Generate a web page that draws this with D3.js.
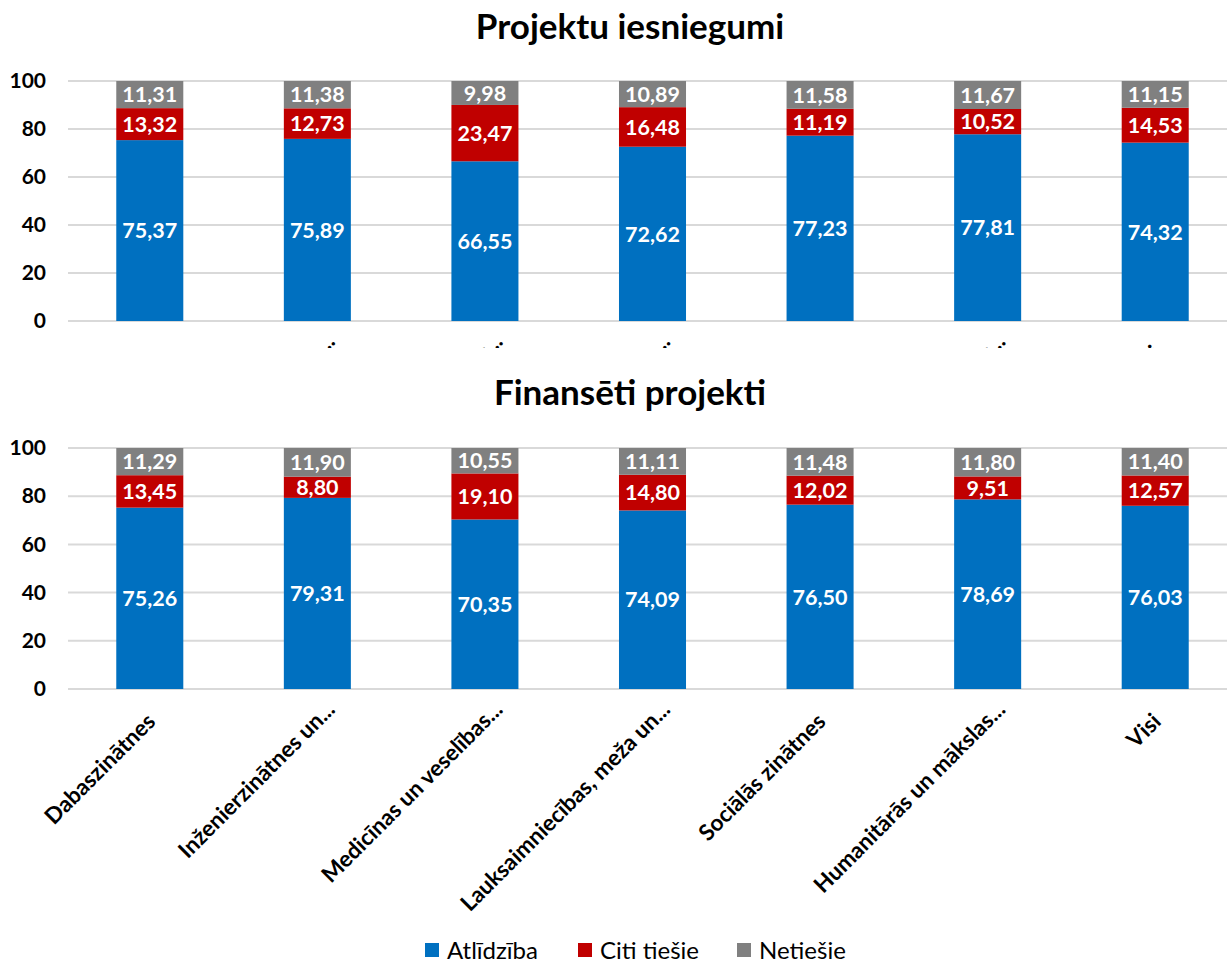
<!DOCTYPE html>
<html>
<head>
<meta charset="utf-8">
<script src="https://cdn.jsdelivr.net/npm/d3@7"></script>
<style>
  html, body { margin: 0; padding: 0; background: #fff; }
  svg { display: block; font-family: Lato, "Open Sans", sans-serif; }
</style>
</head>
<body>
<svg id="chart" width="1227" height="963"></svg>
<script>
// Categories (axis labels as shown, truncated)
const categories = [
  "Dabaszinātnes",
  "Inženierzinātnes un...",
  "Medicīnas un veselības...",
  "Lauksaimniecības,  meža un...",
  "Sociālās zinātnes",
  "Humanitārās un mākslas...",
  "Visi"
];
const seriesNames = ["Atlīdzība", "Citi tiešie", "Netiešie"];
const seriesColors = ["#0070C0", "#C00000", "#808080"];
const yTicks = [0, 20, 40, 60, 80, 100];

// Projektu iesniegumi
const subAtlidziba = [75.37, 75.89, 66.55, 72.62, 77.23, 77.81, 74.32];
const subCiti      = [13.32, 12.73, 23.47, 16.48, 11.19, 10.52, 14.53];
const subNetiesie  = [11.31, 11.38, 9.98, 10.89, 11.58, 11.67, 11.15];

// Finansēti projekti
const finAtlidziba = [75.26, 79.31, 70.35, 74.09, 76.50, 78.69, 76.03];
const finCiti      = [13.45, 8.80, 19.10, 14.80, 12.02, 9.51, 12.57];
const finNetiesie  = [11.29, 11.90, 10.55, 11.11, 11.48, 11.80, 11.40];

const svg = d3.select("#chart");
const fmt = v => d3.format(".2f")(v).replace(".", ",");

function panel(cfg) {
  const { title, titleY, y0, y100, series, clipBottom } = cfg;
  const g = svg.append("g");

  g.append("text")
    .attr("x", 630).attr("y", titleY)
    .attr("text-anchor", "middle")
    .attr("font-size", 35).attr("font-weight", 700)
    .attr("fill", "#000")
    .text(title);

  const x = d3.scaleBand().domain(categories).range([66, 1239]).paddingInner(0.6).paddingOuter(0.3);
  const y = d3.scaleLinear().domain([0, 100]).range([y0, y100]);

  // gridlines
  g.append("g").selectAll("line").data(yTicks).join("line")
    .attr("x1", 68).attr("x2", 1227)
    .attr("y1", d => y(d)).attr("y2", d => y(d))
    .attr("stroke", "#d9d9d9").attr("stroke-width", 2);

  // y tick labels
  const yAxis = d3.axisLeft(y).tickValues(yTicks).tickSize(0).tickPadding(0);
  const ya = g.append("g").attr("transform", "translate(46,0)").call(yAxis);
  ya.select(".domain").remove();
  ya.selectAll("text")
    .attr("font-size", 21).attr("font-weight", 700).attr("fill", "#000")
    .attr("font-family", "Lato, 'Open Sans', sans-serif");

  // stacked bars
  const rows = categories.map((c, i) => ({ cat: c, s0: series[0][i], s1: series[1][i], s2: series[2][i] }));
  const stack = d3.stack().keys(["s0", "s1", "s2"])(rows);
  stack.forEach((layer, k) => {
    const lg = g.append("g");
    lg.selectAll("rect").data(layer).join("rect")
      .attr("x", d => x(d.data.cat))
      .attr("width", x.bandwidth())
      .attr("y", d => y(d[1]))
      .attr("height", d => y(d[0]) - y(d[1]))
      .attr("fill", seriesColors[k]);
    lg.selectAll("text").data(layer).join("text")
      .attr("x", d => x(d.data.cat) + x.bandwidth() / 2)
      .attr("y", d => (y(d[0]) + y(d[1])) / 2)
      .attr("dy", "0.36em")
      .attr("text-anchor", "middle")
      .attr("font-size", 21.5).attr("font-weight", 700)
      .attr("fill", "#fff")
      .text(d => fmt(d.data["s" + k]));
  });

  // category labels (rotated); the upper panel's are cut off by its plot area
  const lab = g.append("g");
  if (clipBottom) {
    const id = "clip" + Math.round(y0);
    svg.append("clipPath").attr("id", id)
      .append("rect").attr("x", 0).attr("y", 0).attr("width", 1227).attr("height", clipBottom);
    lab.attr("clip-path", `url(#${id})`);
  }
  lab.selectAll("text").data(categories).join("text")
    .attr("transform", d => `translate(${x(d) + x.bandwidth() / 2 + 7},${y0 + 34}) rotate(-45)`)
    .attr("dx", d => d.endsWith("...") ? 17 : 0)
    .attr("text-anchor", "end")
    .attr("font-size", 22.5).attr("font-weight", 700)
    .attr("fill", "#000")
    .text(d => d);
}

panel({
  title: "Projektu iesniegumi", titleY: 39, y0: 321, y100: 81,
  series: [subAtlidziba, subCiti, subNetiesie], clipBottom: 348
});
panel({
  title: "Finansēti projekti", titleY: 405, y0: 689, y100: 448,
  series: [finAtlidziba, finCiti, finNetiesie]
});

// legend
const legend = svg.append("g");
const legendX = [425, 578, 737];
seriesNames.forEach((n, i) => {
  legend.append("rect")
    .attr("x", legendX[i]).attr("y", 943)
    .attr("width", 14).attr("height", 14)
    .attr("fill", seriesColors[i]);
  legend.append("text")
    .attr("x", legendX[i] + 22).attr("y", 950)
    .attr("dy", "0.36em")
    .attr("font-size", 24).attr("fill", "#000")
    .text(n);
});
</script>
</body>
</html>
